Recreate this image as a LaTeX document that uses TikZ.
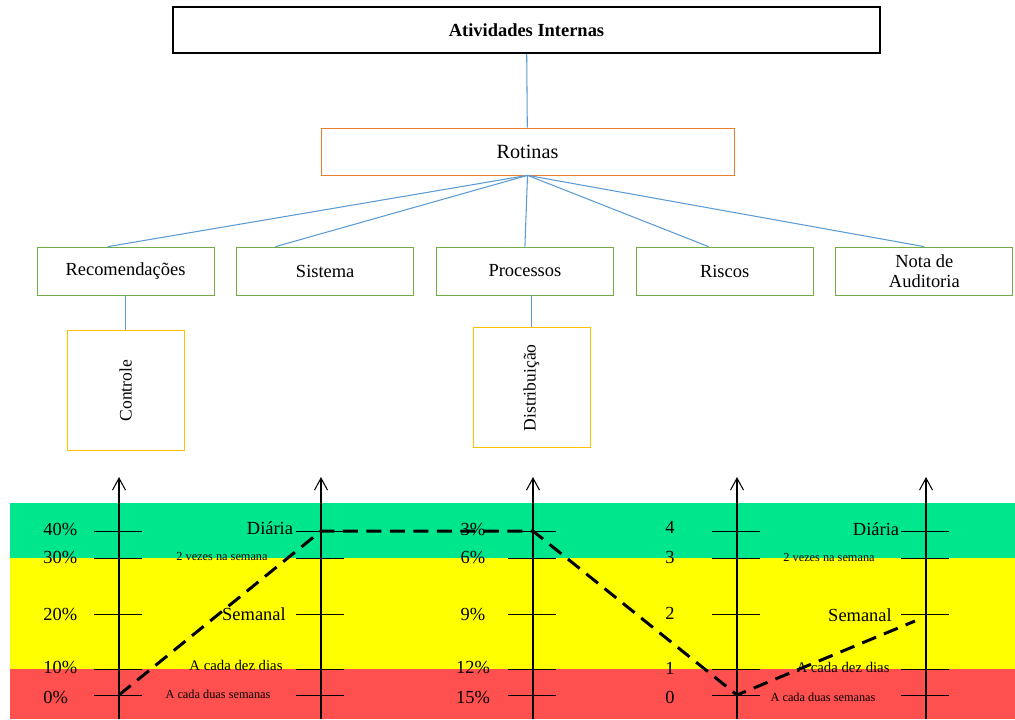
\documentclass[tikz,border=0pt]{standalone}
\usepackage{fontspec}
\setmainfont{Liberation Serif}
\usepackage{tikz}
\usetikzlibrary{arrows.meta,calc,positioning}
\definecolor{linkblue}{RGB}{91,155,213}
\definecolor{rotorange}{RGB}{237,125,49}
\definecolor{leafgreen}{RGB}{112,173,71}
\definecolor{subgold}{RGB}{255,192,0}
\definecolor{bandgreen}{RGB}{0,230,140}
\definecolor{bandyellow}{RGB}{255,255,0}
\definecolor{bandred}{RGB}{255,80,80}

\begin{document}
\begin{tikzpicture}[x=0.2mm, y=-0.2mm, node distance=4.4mm, >={Straight Barb[length=2.4mm,width=2.6mm]},
 topblock/.style = {draw=black, line width=0.9pt, rectangle, minimum height=9.2mm, minimum width=141.4mm, align=center, font=\bfseries\fontsize{10.5}{12}\selectfont},
 midblock/.style = {draw=rotorange, rectangle, minimum height=9.4mm, minimum width=82.6mm, align=center, font=\fontsize{11.5}{13}\selectfont},
 leaf/.style = {draw=leafgreen, rectangle, minimum height=9.6mm, minimum width=35.4mm, align=center, font=\fontsize{10.5}{11.5}\selectfont},
 subblock/.style = {draw=subgold, rectangle, minimum height=24mm, minimum width=23.4mm, align=center, font=\fontsize{10}{11}\selectfont},
 link/.style = {draw=linkblue, line width=0.6pt},
 tick/.style = {draw=black, line width=0.5pt},
 axlabel/.style = {inner sep=0pt, font=\fontsize{10.5}{12}\selectfont},
 smlabel/.style = {inner sep=0pt, font=\fontsize{8.4}{10}\selectfont},
 tnylabel/.style = {inner sep=0pt, font=\fontsize{7}{8}\selectfont},
                        ]
    \useasboundingbox (0,0) rectangle (1015,719);

%% tree
    \node [topblock]  at (526.5,30)    (ativ)   {Atividades Internas};
    \node [midblock]  at (527.5,151.5) (rot)    {Rotinas};
    \node [leaf]      at (125.5,271)   (rec)    {Recomendações};
    \node [leaf, right=of rec]         (sis)    {Sistema};
    \node [leaf, right=of sis]         (proc)   {Processos};
    \node [leaf, right=of proc]        (ris)    {Riscos};
    \node [leaf, right=of ris]         (nota)   {Nota de\\ Auditoria};
    \node [subblock, below=7mm of rec]            (ctrl)  {\rotatebox{90}{Controle}};
    \node [subblock, below=6.4mm of proc, xshift=1.3mm] (distr) {\rotatebox{90}{Distribuição}};

%% bands
    \fill [bandgreen]  (10,503) rectangle (1015,558);
    \fill [bandyellow] (10,558) rectangle (1015,669);
    \fill [bandred]    (10,669) rectangle (1015,719);

%% axes and ticks
    \foreach \x/\n in {119/a,321/b,533/c,737/d,926/e} {
        \coordinate (ax\n bot) at (\x,719);
        \coordinate (ax\n top) at (\x,477);
        \draw [->, line width=0.6pt] (ax\n bot) -- (ax\n top);
        \foreach \y in {531,558,614,669,695}
            \path [tick] (\x-25,\y) -- (\x+23,\y);
    }

%% labels
    \foreach \y/\t [count=\i] in {529/40\%,557/30\%,614/20\%,667/10\%,697/0\%}
        \node [axlabel, anchor=west] (pct\i) at (43,\y) {\t};
    \foreach \y/\t [count=\i] in {529/3\%,557/6\%,614/9\%,667/12\%,697/15\%}
        \node [axlabel] (rate\i) at (473,\y) {\t};
    \foreach \y/\t [count=\i] in {527/4,557/3,613/2,668/1,697/0}
        \node [axlabel] (num\i) at (670,\y) {\t};

    \node [axlabel]  (freqb1) at (270,528) {Diária};
    \node [tnylabel] (freqb2) at (222,556) {2 vezes na semana};
    \node [axlabel]  (freqb3) at (254,614) {Semanal};
    \node [smlabel]  (freqb4) at (236,665) {A cada dez dias};
    \node [tnylabel] (freqb5) at (218,694) {A cada duas semanas};

    \node [axlabel]  (freqe1) at (876,529) {Diária};
    \node [tnylabel] (freqe2) at (829,557) {2 vezes na semana};
    \node [axlabel]  (freqe3) at (860,615) {Semanal};
    \node [smlabel]  (freqe4) at (843,667) {A cada dez dias};
    \node [tnylabel] (freqe5) at (823,697) {A cada duas semanas};

%% profile
    \coordinate (p1) at (119,695);
    \coordinate (p2) at (321,531);
    \coordinate (p3) at (533,531);
    \coordinate (p4) at (737,695);
    \coordinate (p5) at (915,621);
    \draw [line width=1.7pt, dash pattern=on 3mm off 1.7mm] (p1) -- (p2) -- (p3) -- (p4) -- (p5);

%% paths
    \path[link] (ativ)  edge  (rot)
                (rot.south)  edge  ($(rec.north west)!0.4!(rec.north east)$)
                (rot.south)  edge  ($(sis.north west)!0.22!(sis.north east)$)
                (rot.south)  edge  (proc.north)
                (rot.south)  edge  ($(ris.north west)!0.41!(ris.north east)$)
                (rot.south)  edge  (nota.north)
                (rec)   edge  (ctrl)
                (proc.south -| distr.north) edge (distr)
                ;
\end{tikzpicture}
\end{document}
